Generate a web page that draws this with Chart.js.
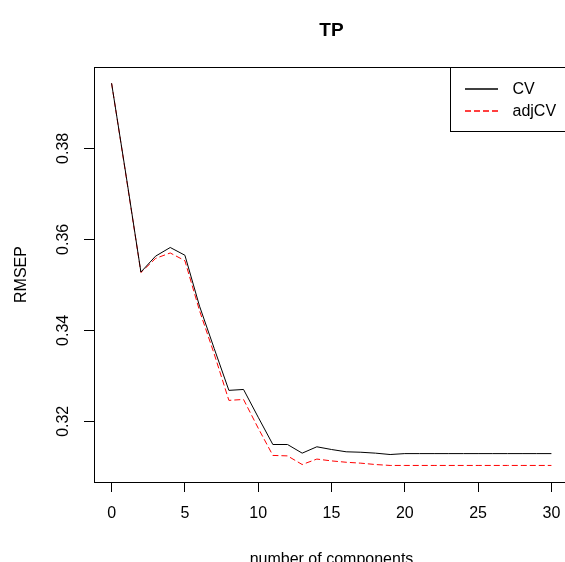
<!DOCTYPE html>
<html>
<head>
<meta charset="utf-8">
<script src="https://cdn.jsdelivr.net/npm/chart.js@4.4.1/dist/chart.umd.min.js"></script>
<style>
  html, body { margin: 0; padding: 0; background: #fff; overflow: hidden; }
  #wrap { width: 565px; height: 562px; overflow: hidden; position: relative; }
  canvas { display: block; }
</style>
</head>
<body>
<div id="wrap"><canvas id="c" width="575" height="580"></canvas></div>
<script>
const chartTitle = 'TP';
const xAxisLabel = 'number of components';
const yAxisLabel = 'RMSEP';
const components = [0,1,2,3,4,5,6,7,8,9,10,11,12,13,14,15,16,17,18,19,20,21,22,23,24,25,26,27,28,29,30];
const cvValues = [0.3943,0.3738,0.3528,0.3563,0.3582,0.3565,0.3453,0.3360,0.3268,0.3270,0.3209,0.3149,0.3149,0.3130,0.3144,0.3138,0.3133,0.3132,0.3130,0.3127,0.3129,0.3129,0.3129,0.3129,0.3129,0.3129,0.3129,0.3129,0.3129,0.3129,0.3129];
const adjcvValues = [0.3943,0.3736,0.3527,0.3558,0.3570,0.3553,0.3443,0.3348,0.3246,0.3248,0.3185,0.3125,0.3124,0.3105,0.3117,0.3113,0.3110,0.3108,0.3105,0.3103,0.3103,0.3103,0.3103,0.3103,0.3103,0.3103,0.3103,0.3103,0.3103,0.3103,0.3103];
const seriesLabels = ['CV', 'adjCV'];
const seriesColors = ['#000000', '#FF0000'];
const seriesDashes = [[], [6, 3]];
const xTicks = [0,5,10,15,20,25,30];
const yTicks = [0.32,0.34,0.36,0.38];

const FONT = '"Liberation Sans", Arial, sans-serif';

const boxLegend = {
  id: 'boxLegend',
  afterDraw(chart) {
    const ctx = chart.ctx;
    const a = chart.chartArea;
    ctx.save();
    ctx.strokeStyle = '#000';
    ctx.lineWidth = 1;
    ctx.setLineDash([]);
    ctx.beginPath();
    ctx.moveTo(a.left, Math.round(a.top) + 0.5);
    ctx.lineTo(a.right, Math.round(a.top) + 0.5);
    ctx.moveTo(Math.round(a.right) - 0.5, a.top);
    ctx.lineTo(Math.round(a.right) - 0.5, a.bottom);
    ctx.stroke();
    const bx = 450.5, by = Math.round(a.top) + 0.5, bw = a.right - 450.5, bh = 64;
    ctx.strokeRect(bx, by, bw, bh);
    const rowsY = [89, 111];
    const x0 = 465, x1 = 498;
    seriesLabels.forEach((lab, i) => {
      ctx.strokeStyle = seriesColors[i];
      ctx.lineWidth = 1.3;
      ctx.setLineDash(seriesDashes[i]);
      ctx.beginPath();
      ctx.moveTo(x0, rowsY[i]);
      ctx.lineTo(x1, rowsY[i]);
      ctx.stroke();
      ctx.setLineDash([]);
      ctx.fillStyle = '#000';
      ctx.font = '16px ' + FONT;
      ctx.textAlign = 'left';
      ctx.textBaseline = 'middle';
      ctx.fillText(lab, 512.5, rowsY[i] + 0.5);
    });
    ctx.restore();
  }
};

new Chart(document.getElementById('c'), {
  type: 'line',
  data: {
    datasets: seriesLabels.map((lab, k) => ({
      label: lab,
      data: components.map((c, i) => ({x: c, y: (k === 0 ? cvValues : adjcvValues)[i]})),
      borderColor: seriesColors[k],
      borderWidth: 1,
      borderDash: seriesDashes[k],
      pointRadius: 0,
      tension: 0,
      fill: false
    }))
  },
  options: {
    responsive: false,
    animation: false,
    devicePixelRatio: 1,
    layout: { padding: { left: 0, top: 0, right: 6, bottom: 0 } },
    plugins: {
      legend: { display: false },
      tooltip: { enabled: false },
      title: {
        display: true,
        text: chartTitle,
        fullSize: false,
        color: '#000',
        font: { family: FONT, size: 19, weight: 'bold', lineHeight: 1.2 },
        padding: { top: 19.6, bottom: 24.6 }
      }
    },
    scales: {
      x: {
        type: 'linear',
        min: -1.2,
        max: 31.2,
        afterBuildTicks: s => { s.ticks = xTicks.map(v => ({ value: v })); },
        afterFit: s => { s.height = 98; },
        grid: { drawOnChartArea: false, drawTicks: true, tickLength: 10, color: '#000', lineWidth: 1 },
        border: { display: true, color: '#000', width: 1 },
        ticks: {
          autoSkip: false, maxRotation: 0, minRotation: 0, padding: 12,
          color: '#000', font: { family: FONT, size: 16 },
          callback: v => String(v)
        },
        title: {
          display: true, text: xAxisLabel, color: '#000',
          font: { family: FONT, size: 16, lineHeight: 1.2 },
          padding: { top: 0, bottom: 11 }
        }
      },
      y: {
        type: 'linear',
        min: 0.30666,
        max: 0.39787,
        afterBuildTicks: s => { s.ticks = yTicks.map(v => ({ value: v })); },
        afterFit: s => { s.width = 94; },
        grid: { drawOnChartArea: false, drawTicks: true, tickLength: 10, color: '#000', lineWidth: 1 },
        border: { display: true, color: '#000', width: 1 },
        ticks: {
          autoSkip: false, minRotation: 90, maxRotation: 90, crossAlign: 'center', padding: 4.5,
          color: '#000', font: { family: FONT, size: 16 },
          callback: v => v.toFixed(2)
        },
        title: {
          display: true, text: yAxisLabel, color: '#000',
          font: { family: FONT, size: 16, lineHeight: 1.2 },
          padding: { top: 11.9, bottom: 0 }
        }
      }
    }
  },
  plugins: [boxLegend]
});
</script>
</body>
</html>
